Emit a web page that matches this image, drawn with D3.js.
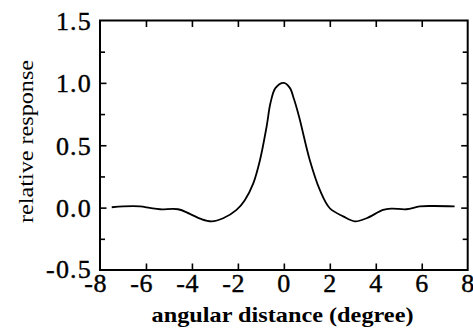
<!DOCTYPE html>
<html>
<head>
<meta charset="utf-8">
<script src="https://cdn.jsdelivr.net/npm/d3@7"></script>
<style>
  body { margin: 0; background: #fff; }
  svg text { font-family: "Liberation Serif", "DejaVu Serif", serif; fill: #000; }
  .num { stroke: #000; stroke-width: 0.4px; }
</style>
</head>
<body>
<div id="chart"></div>
<script>
// angular response profile
const angle = [-7.49, -6.99, -6.26, -5.83, -5.39, -4.6, -4.09, -3.58, -3.14, -2.64, -2.06, -1.7, -1.33, -1.04, -0.75, -0.58, -0.36, 0,
               0.26, 0.44, 0.66, 1.13, 1.57, 2.0, 2.58, 3.09, 3.6, 4.32, 4.68, 5.33, 5.91, 6.49, 7.43];
const response = [0.003, 0.01, 0.01, -0.002, -0.013, -0.013, -0.05, -0.093, -0.11, -0.085, -0.018, 0.06, 0.195, 0.38, 0.65, 0.84, 0.96, 1.0,
                  0.96, 0.87, 0.73, 0.38, 0.14, -0.005, -0.07, -0.11, -0.085, -0.018, -0.008, -0.013, 0.01, 0.013, 0.01];
const xTicks = [-8, -6, -4, -2, 0, 2, 4, 6, 8];
const yTicks = [-0.5, 0.0, 0.5, 1.0, 1.5];
const yMinor = [-0.25, 0.25, 0.75, 1.25];

const width = 473, height = 334;
const margin = { left: 100, right: 5.3, top: 20.5, bottom: 64 };

const svg = d3.select('#chart').append('svg')
    .attr('width', width)
    .attr('height', height);

const x = d3.scaleLinear().domain([-8, 8]).range([margin.left, width - margin.right]);
const y = d3.scaleLinear().domain([-0.5, 1.5]).range([height - margin.bottom, margin.top]);

// inward ticks on all four sides
const noDomain = sel => sel.select('.domain').remove();

svg.append('g')
    .attr('transform', `translate(0,${y(-0.5)})`)
    .call(d3.axisBottom(x).tickValues(xTicks.slice(1, -1)).tickSize(-6.5).tickFormat(''))
    .call(noDomain);
svg.append('g')
    .attr('transform', `translate(0,${y(1.5)})`)
    .call(d3.axisTop(x).tickValues(xTicks.slice(1, -1)).tickSize(-6.5).tickFormat(''))
    .call(noDomain);
svg.append('g')
    .attr('transform', `translate(${x(-8)},0)`)
    .call(d3.axisLeft(y).tickValues(yTicks.slice(1, -1)).tickSize(-6.5).tickFormat(''))
    .call(noDomain);
svg.append('g')
    .attr('transform', `translate(${x(-8)},0)`)
    .call(d3.axisLeft(y).tickValues(yMinor).tickSize(-5).tickFormat(''))
    .call(noDomain);
svg.append('g')
    .attr('transform', `translate(${x(8)},0)`)
    .call(d3.axisRight(y).tickValues(yTicks.slice(1, -1)).tickSize(-6.5).tickFormat(''))
    .call(noDomain);
svg.append('g')
    .attr('transform', `translate(${x(8)},0)`)
    .call(d3.axisRight(y).tickValues(yMinor).tickSize(-5).tickFormat(''))
    .call(noDomain);
svg.selectAll('.tick line').attr('stroke', '#000').attr('stroke-width', 1.6);

// frame
svg.append('rect')
    .attr('x', x(-8)).attr('y', y(1.5))
    .attr('width', x(8) - x(-8)).attr('height', y(-0.5) - y(1.5))
    .attr('fill', 'none').attr('stroke', '#000').attr('stroke-width', 2);

// y tick labels
svg.append('g').selectAll('text')
    .data(yTicks)
    .join('text')
    .attr('class', 'num')
    .attr('x', x(-8) - 8)
    .attr('y', d => y(d) + (d === -0.5 ? 8 : 9.5))
    .attr('text-anchor', 'end')
    .attr('font-size', 26)
    .attr('letter-spacing', 1.2)
    .text(d => d.toFixed(1));

// x tick labels: digit centred on the tick, minus sign hanging left
const xl = svg.append('g').selectAll('g')
    .data(xTicks)
    .join('g')
    .attr('transform', d => `translate(${x(d)},292)`);
xl.append('text')
    .attr('class', 'num')
    .attr('text-anchor', 'middle')
    .attr('font-size', 26)
    .text(d => Math.abs(d));
xl.filter(d => d < 0).append('text')
    .attr('class', 'num')
    .attr('x', -7)
    .attr('text-anchor', 'end')
    .attr('font-size', 26)
    .text('-');

// axis titles
svg.append('text')
    .attr('x', 282.5).attr('y', 322)
    .attr('text-anchor', 'middle')
    .attr('font-size', 21)
    .attr('font-weight', 'bold')
    .attr('textLength', 262)
    .attr('lengthAdjust', 'spacingAndGlyphs')
    .text('angular distance (degree)');

svg.append('text')
    .attr('transform', 'translate(33,141.5) rotate(-90)')
    .attr('text-anchor', 'middle')
    .attr('font-size', 20)
    .attr('textLength', 163)
    .attr('lengthAdjust', 'spacingAndGlyphs')
    .text('relative response');

// curve
const line = d3.line()
    .x((d, i) => x(angle[i]))
    .y(d => y(d))
    .curve(d3.curveCatmullRom.alpha(0.5));

svg.append('path')
    .datum(response)
    .attr('d', line)
    .attr('fill', 'none')
    .attr('stroke', '#000')
    .attr('stroke-width', 1.8)
    .attr('stroke-linejoin', 'round');
</script>
</body>
</html>
